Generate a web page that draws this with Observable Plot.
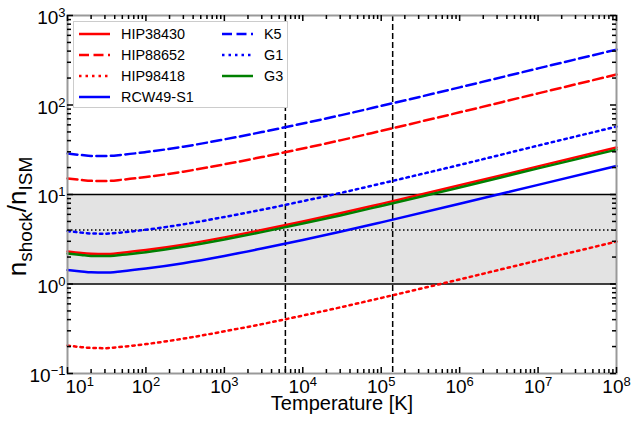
<!DOCTYPE html>
<html>
<head>
<meta charset="utf-8">
<script src="https://cdn.jsdelivr.net/npm/d3@7"></script>
<script src="https://cdn.jsdelivr.net/npm/@observablehq/plot@0.6"></script>
<style>
  html, body { margin: 0; padding: 0; background: white; }
  #wrap { position: relative; width: 631px; height: 423px; font-family: "Liberation Sans", Arial, sans-serif; }
  #legend { position: absolute; left: 73px; top: 21px; width: 215px; height: 87px; border: 1px solid #cccccc; background: white; box-sizing: border-box; }
  .entry { position: absolute; height: 20px; display: flex; align-items: center; font-size: 14.4px; color: black; white-space: nowrap; }
  .entry svg { margin-right: 11px; }
</style>
</head>
<body>
<div id="wrap"></div>
<script>
// Temperature grid [K]
const T = [10, 15, 20, 30, 50, 100, 300, 1e3, 3e3, 1e4, 3e4, 1e5, 1e6, 1e7, 1e8];

// n_shock / n_ISM per star
const hip38430 = [2.31, 2.22, 2.18, 2.16, 2.24, 2.40, 2.75, 3.32, 4.01, 5.00, 6.16, 7.86, 12.67, 20.6, 33.5];
const hip88652 = [15.10, 14.52, 14.22, 14.13, 14.62, 15.67, 17.99, 21.73, 26.18, 32.66, 40.27, 51.40, 82.8, 134.9, 218.8];
const hip98418 = [0.205, 0.197, 0.193, 0.192, 0.199, 0.213, 0.245, 0.296, 0.356, 0.444, 0.548, 0.699, 1.126, 1.835, 2.98];
const rcw49s1  = [1.43, 1.38, 1.35, 1.34, 1.39, 1.49, 1.71, 2.06, 2.49, 3.10, 3.83, 4.88, 7.87, 12.8, 20.8];
const k5       = [28.7, 27.6, 27.0, 26.9, 27.8, 29.8, 34.2, 41.3, 49.8, 62.1, 76.6, 97.7, 157.4, 256.5, 416];
const g1       = [3.90, 3.75, 3.67, 3.65, 3.77, 4.04, 4.64, 5.61, 6.75, 8.43, 10.39, 13.26, 21.4, 35.2, 57.3];
const g3       = [2.19, 2.11, 2.06, 2.05, 2.12, 2.27, 2.61, 3.15, 3.80, 4.74, 5.84, 7.45, 12.0, 19.6, 31.7];

const seriesNames = ["HIP38430", "HIP88652", "HIP98418", "RCW49-S1", "K5", "G1", "G3"];
const seriesValues = [hip38430, hip88652, hip98418, rcw49s1, k5, g1, g3];

// reference lines
const bandLimits = [1, 10];
const refLevel = [4];
const refTemps = [6000, 1.4e5];

// axes
const xDomain = [10, 1e8];
const yDomain = [0.1, 1000];
const xMajor = [1e1, 1e2, 1e3, 1e4, 1e5, 1e6, 1e7, 1e8];
const yMajor = [1e-1, 1e0, 1e1, 1e2, 1e3];
const xLabel = "Temperature [K]";

// styles
const styles = {
  "HIP38430": {stroke: "#ff0000", dash: null},
  "HIP88652": {stroke: "#ff0000", dash: "10,4.5"},
  "HIP98418": {stroke: "#ff0000", dash: "2.5,4"},
  "RCW49-S1": {stroke: "#0000ff", dash: null},
  "K5":       {stroke: "#0000ff", dash: "10,4.5"},
  "G1":       {stroke: "#0000ff", dash: "2.5,4"},
  "G3":       {stroke: "#008000", dash: null}
};

const minorOf = (majors) => {
  const out = [];
  for (let i = 0; i < majors.length - 1; i++) for (let m = 2; m <= 9; m++) out.push(m * majors[i]);
  return out;
};
const xMinor = minorOf(xMajor);
const yMinor = minorOf(yMajor);

const W = 631, H = 423, mL = 67, mR = 15, mT = 15, mB = 50;
const pw = W - mL - mR, ph = H - mT - mB;

const rows = [];
seriesNames.forEach((name, i) => T.forEach((t, j) => rows.push({name, T: t, v: seriesValues[i][j]})));

const fmt = d => "10^" + String(Math.round(Math.log10(d))).replace("-", "\u2212");

const lineMarks = seriesNames.map(name => Plot.line(rows.filter(r => r.name === name), {
  x: "T", y: "v", stroke: styles[name].stroke, strokeWidth: 2.5,
  strokeDasharray: styles[name].dash, curve: "monotone-x"
}));

const tickStyle = {stroke: "black", strokeWidth: 1.5};
const chart = Plot.plot({
  width: W, height: H, marginLeft: mL, marginRight: mR, marginTop: mT, marginBottom: mB,
  style: {fontFamily: "'Liberation Sans', Arial, sans-serif", color: "black", background: "white"},
  x: {type: "log", domain: xDomain},
  y: {type: "log", domain: yDomain},
  marks: [
    Plot.rect([bandLimits], {x1: () => xDomain[0], x2: () => xDomain[1], y1: d => d[0], y2: d => d[1], fill: "#e3e3e3"}),
    Plot.ruleY(bandLimits, {stroke: "black", strokeWidth: 1.5}),
    Plot.ruleY(refLevel, {stroke: "black", strokeWidth: 1.5, strokeDasharray: "1.5,2.5"}),
    Plot.ruleX(refTemps, {stroke: "black", strokeWidth: 1.5, strokeDasharray: "6,3"}),
    ...lineMarks,
    Plot.frame({stroke: "#999999", strokeWidth: 2}),
    // inward ticks on all four sides
    Plot.tickX(xMajor, {x: d => d, insetTop: ph - 6, ...tickStyle}),
    Plot.tickX(xMinor, {x: d => d, insetTop: ph - 4, ...tickStyle}),
    Plot.tickX(xMajor, {x: d => d, insetBottom: ph - 6, ...tickStyle}),
    Plot.tickX(xMinor, {x: d => d, insetBottom: ph - 4, ...tickStyle}),
    Plot.tickY(yMajor, {y: d => d, insetRight: pw - 6, ...tickStyle}),
    Plot.tickY(yMinor, {y: d => d, insetRight: pw - 4, ...tickStyle}),
    Plot.tickY(yMajor, {y: d => d, insetLeft: pw - 6, ...tickStyle}),
    Plot.tickY(yMinor, {y: d => d, insetLeft: pw - 4, ...tickStyle}),
    Plot.axisX(xMajor, {tickSize: 0, tickPadding: 6, tickFormat: fmt, label: null}),
    Plot.axisY(yMajor, {tickSize: 0, tickPadding: 2, tickFormat: fmt, label: null, dy: 2.5}),
    Plot.text([xLabel], {text: d => d, frameAnchor: "bottom", lineAnchor: "bottom", textAnchor: "middle", dy: 36, fontSize: 20}),
    Plot.text(["YLABEL"], {text: d => d, frameAnchor: "left", textAnchor: "middle", lineAnchor: "bottom", dx: -42, dy: 22, rotate: -90, fontSize: 26})
  ]
});

// superscripts in tick labels
d3.select(chart).selectAll('g[aria-label="x-axis tick label"] text, g[aria-label="y-axis tick label"] text').each(function() {
  const s = this.textContent;
  const m = s.match(/^10\^(.*)$/);
  if (!m) return;
  this.textContent = "";
  const t = d3.select(this).attr("font-size", "19px");
  t.append("tspan").text("10");
  t.append("tspan").attr("dy", -7).attr("font-size", "13px").text(m[1]);
});
// first x label is placed starting just left of the axis
const xl = d3.select(chart).selectAll('g[aria-label="x-axis tick label"] text').nodes();
if (xl.length) d3.select(xl[0]).attr("text-anchor", "start").attr("dx", -2);

// y axis title with subscripts
d3.select(chart).selectAll("text").each(function() {
  if (this.textContent !== "YLABEL") return;
  this.textContent = "";
  const t = d3.select(this);
  t.append("tspan").text("n");
  t.append("tspan").attr("font-size", "19px").attr("dy", 6).text("shock");
  t.append("tspan").attr("dy", -6).text("/n");
  t.append("tspan").attr("font-size", "19px").attr("dy", 6).text("ISM");
});

const wrap = document.getElementById("wrap");
wrap.appendChild(chart);

// legend
const legend = document.createElement("div");
legend.id = "legend";
seriesNames.forEach((name, i) => {
  const col = i < 4 ? 0 : 1;
  const row = i < 4 ? i : i - 4;
  const e = document.createElement("div");
  e.className = "entry";
  e.style.left = (col === 0 ? 5 : 148) + "px";
  e.style.top = (2 + row * 21) + "px";
  const st = styles[name];
  e.innerHTML = `<svg width="31" height="6"><line x1="0" y1="3" x2="31" y2="3" stroke="${st.stroke}" stroke-width="2.5" ${st.dash ? `stroke-dasharray="${st.dash}"` : ""}/></svg><span>${name}</span>`;
  legend.appendChild(e);
});
wrap.appendChild(legend);
</script>
</body>
</html>
